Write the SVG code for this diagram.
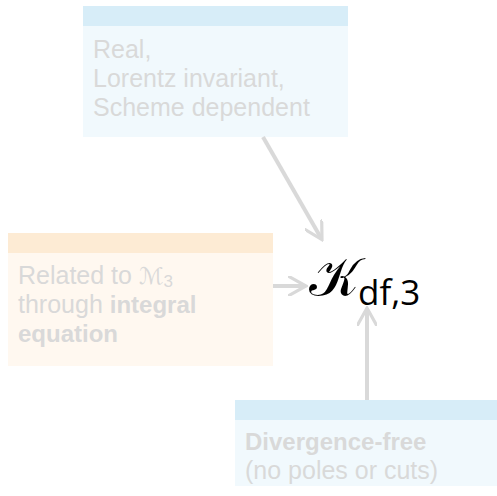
<svg xmlns="http://www.w3.org/2000/svg" width="497" height="496" viewBox="0 0 497 496">
  <style>
    .txt { font-family: "Liberation Sans", "DejaVu Sans", sans-serif; font-size: 25px; fill: #d9d9d9; }
    .b { font-weight: 700; font-size: 24px; }
    .hdr-blue { fill: #d7edf8; }
    .body-blue { fill: #f1f9fd; }
    .hdr-orange { fill: #fdebd4; }
    .body-orange { fill: #fff8f0; }
    .conn { stroke: #d9d9d9; stroke-width: 4; fill: none; marker-end: url(#arrow); }
  </style>
  <defs>
    <marker id="arrow" viewBox="0 0 10 10" refX="8" refY="5" markerWidth="5" markerHeight="5" orient="auto" markerUnits="strokeWidth">
      <path d="M0,0 L9,5 L0,10" fill="none" stroke="#d9d9d9" stroke-width="1.6"/>
    </marker>
  </defs>
  <rect width="497" height="496" fill="#ffffff"/>

  <g id="props">
    <rect class="hdr-blue" x="83" y="6" width="265" height="20"/>
    <rect class="body-blue" x="83" y="26" width="265" height="111"/>
    <text class="txt" x="93" y="58">Real,</text>
    <text class="txt" x="93" y="87">Lorentz invariant,</text>
    <text class="txt" x="93" y="116">Scheme dependent</text>
  </g>

  <g id="relation">
    <rect class="hdr-orange" x="8" y="233" width="265" height="20"/>
    <rect class="body-orange" x="8" y="253" width="265" height="113"/>
    <text class="txt" x="18" y="284">Related to <tspan font-family="DejaVu Sans" font-size="23" font-style="italic">ℳ</tspan><tspan font-size="17" dy="3">3</tspan></text>
    <text class="txt" x="18" y="313">through <tspan class="b">integral</tspan></text>
    <text class="txt b" x="18" y="342">equation</text>
  </g>

  <g id="analytic">
    <rect class="hdr-blue" x="235" y="400" width="262" height="20"/>
    <rect class="body-blue" x="235" y="420" width="262" height="66"/>
    <text class="txt b" x="245" y="450">Divergence-free</text>
    <text class="txt" x="245" y="479">(no poles or cuts)</text>
  </g>

  <g id="kdf3">
    <text x="309" y="296" font-family="DejaVu Serif, serif" font-size="54" fill="#000">𝒦</text>
    <text x="358" y="305" font-family="Open Sans, DejaVu Sans, sans-serif" font-size="35" fill="#000">df,3</text>
  </g>

  <g id="connectors">
    <line class="conn" x1="263" y1="137" x2="321" y2="238"/>
    <line class="conn" x1="273" y1="286" x2="304" y2="286"/>
    <line class="conn" x1="367" y1="400" x2="367" y2="310"/>
  </g>
</svg>
